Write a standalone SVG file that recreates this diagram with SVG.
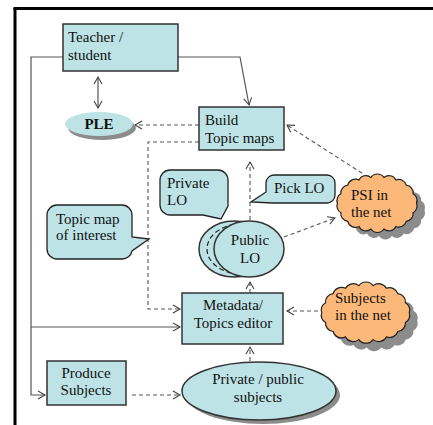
<svg xmlns="http://www.w3.org/2000/svg" width="433" height="425" viewBox="0 0 433 425" font-family="Liberation Serif, Times New Roman, serif">
<style>
text{font-family:"Liberation Serif","Times New Roman",serif;font-size:15px;fill:#111}
.c{text-anchor:middle}
.box{fill:#bde3e6;stroke:#333;stroke-width:1.5}
.call{fill:#bde3e6;stroke:#222;stroke-width:1.3}
.shadow{fill:#8c8c8c}
.solid{fill:none;stroke:#555;stroke-width:1.2}
.dash{fill:none;stroke:#555;stroke-width:1.1;stroke-dasharray:4 3}
.cloud{fill:#fbb878;stroke:#222;stroke-width:1.2}
</style>
<defs>
<marker id="ah" markerWidth="10" markerHeight="10" refX="8" refY="5" orient="auto-start-reverse" markerUnits="userSpaceOnUse">
<path d="M1,1 L8,5 L1,9" fill="none" stroke="#444" stroke-width="1.1"/>
</marker>
<path id="cloudp" vector-effect="non-scaling-stroke" d="M96,34 A9,9 0 0 1 92,45 A9,9 0 0 1 84,55 A9,9 0 0 1 72,61 A9,9 0 0 1 58,64 A9,9 0 0 1 43,64 A9,9 0 0 1 29,61 A9,9 0 0 1 16,55 A9,9 0 0 1 8,45 A9,9 0 0 1 4,34 A9,9 0 0 1 8,23 A9,9 0 0 1 16,13 A9,9 0 0 1 29,7 A9,9 0 0 1 43,4 A9,9 0 0 1 58,4 A9,9 0 0 1 72,7 A9,9 0 0 1 84,13 A9,9 0 0 1 92,23 A9,9 0 0 1 96,34 Z"/>
</defs>
<rect width="433" height="425" fill="#fff"/>
<g id="frame">
<line x1="13.5" y1="8.5" x2="433" y2="8.5" stroke="#000" stroke-width="3"/>
<line x1="15" y1="8" x2="15" y2="425" stroke="#000" stroke-width="3"/>
</g>
<g id="connectors">
<path class="solid" d="M63,57 H31 V395 H45" marker-end="url(#ah)"/>
<path class="solid" d="M31,327 H180" marker-end="url(#ah)"/>
<path class="solid" d="M98,77 V108" marker-start="url(#ah)" marker-end="url(#ah)"/>
<path class="solid" d="M178,57 H240 L249,105" marker-end="url(#ah)"/>
<path class="dash" d="M199,125 H135" marker-end="url(#ah)"/>
<path class="dash" d="M199,142 H148 V309 H180" marker-end="url(#ah)"/>
<path class="dash" d="M368,177 L287,125" marker-end="url(#ah)"/>
<path class="dash" d="M250,220 V162" marker-end="url(#ah)"/>
<path class="dash" d="M284,237 L335,218" marker-end="url(#ah)"/>
<path class="dash" d="M250,293 V282" marker-end="url(#ah)"/>
<path class="dash" d="M250,361 V347" marker-end="url(#ah)"/>
<path class="dash" d="M318,311 H287" marker-end="url(#ah)"/>
<path class="dash" d="M132,395 H180" marker-end="url(#ah)"/>
</g>
<g id="teacher">
<rect class="box" x="63" y="24" width="115" height="47"/>
<text x="68" y="42">Teacher /</text>
<text x="68" y="60">student</text>
</g>
<g id="ple">
<ellipse class="shadow" cx="102" cy="128" rx="34" ry="12"/>
<ellipse cx="99" cy="124" rx="34" ry="12" fill="#bde3e6"/>
<text class="c" x="99" y="129" style="font-weight:bold">PLE</text>
</g>
<g id="build">
<rect class="box" x="199" y="107" width="85" height="43"/>
<text x="205" y="125">Build</text>
<text x="205" y="143">Topic maps</text>
</g>
<g id="private-lo">
<path class="call" d="M170,170 H218 A10,10 0 0 1 228,180 V206 L221,219 L203,215 H170 A10,10 0 0 1 160,205 V180 A10,10 0 0 1 170,170 Z"/>
<text x="167" y="188">Private</text>
<text x="167" y="205">LO</text>
</g>
<g id="pick-lo">
<path class="call" d="M274,175 H327 A8,8 0 0 1 335,183 V195 A8,8 0 0 1 327,203 H272 L251,202 L266,192 V183 A8,8 0 0 1 274,175 Z"/>
<text x="274" y="193">Pick LO</text>
</g>
<g id="topic-map-interest">
<path class="call" d="M57,205 H122 A10,10 0 0 1 132,215 V237 L149,239 L132,251 A10,10 0 0 1 122,259 H57 A10,10 0 0 1 47,249 V215 A10,10 0 0 1 57,205 Z"/>
<text x="56" y="224">Topic map</text>
<text x="56" y="240">of interest</text>
</g>
<g id="public-lo">
<ellipse class="box" cx="234" cy="249" rx="35" ry="28" stroke-width="1.3"/>
<ellipse cx="241" cy="249" rx="34" ry="25" fill="none" stroke="#222" stroke-width="1.2" stroke-dasharray="5 3"/>
<ellipse class="box" cx="249" cy="249" rx="35" ry="28" stroke-width="1.3"/>
<text class="c" x="250" y="245">Public</text>
<text class="c" x="250" y="263">LO</text>
</g>
<g id="psi">
<use href="#cloudp" class="shadow" transform="translate(342,181) scale(0.86)"/>
<use href="#cloudp" class="cloud" transform="translate(334,174) scale(0.86)"/>
<text x="351" y="200">PSI in</text>
<text x="351" y="217">the net</text>
</g>
<g id="metadata">
<rect class="box" x="182" y="293" width="101" height="51"/>
<text class="c" x="233" y="310">Metadata/</text>
<text class="c" x="233" y="328">Topics editor</text>
</g>
<g id="subjects-net">
<use href="#cloudp" class="shadow" transform="translate(326,290) scale(0.95,0.9)"/>
<use href="#cloudp" class="cloud" transform="translate(318,282) scale(0.95,0.9)"/>
<text x="335" y="303">Subjects</text>
<text x="335" y="320">in the net</text>
</g>
<g id="produce">
<rect class="box" x="47" y="361" width="79" height="44"/>
<text class="c" x="86" y="378">Produce</text>
<text class="c" x="86" y="395">Subjects</text>
</g>
<g id="private-public">
<ellipse class="shadow" cx="263" cy="395" rx="77" ry="29"/>
<ellipse class="box" cx="259" cy="391" rx="77" ry="29" stroke-width="1.3"/>
<text class="c" x="258" y="384">Private / public</text>
<text class="c" x="258" y="402">subjects</text>
</g>
</svg>
